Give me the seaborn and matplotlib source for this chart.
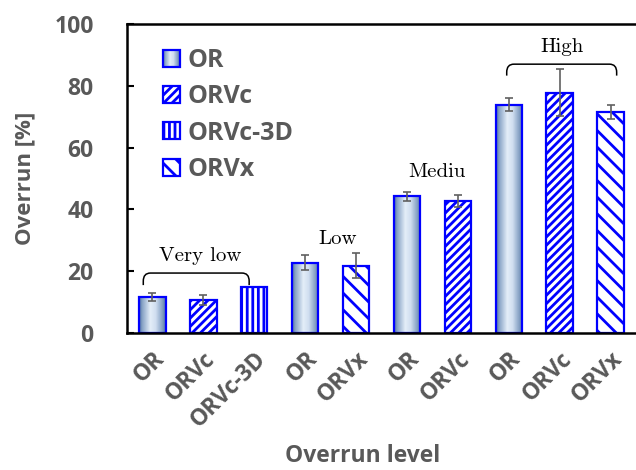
import numpy as np
import pandas as pd
import matplotlib
matplotlib.use("Agg")
import matplotlib.pyplot as plt
import seaborn as sns
from matplotlib.patches import Patch, Rectangle, PathPatch
from matplotlib.path import Path
from matplotlib.colors import LinearSegmentedColormap
from matplotlib.legend_handler import HandlerPatch
from matplotlib.image import BboxImage
from matplotlib.transforms import Bbox, TransformedBbox, ScaledTranslation

# ---------------- data ----------------
tick_labels = ["OR", "ORVc", "ORVc-3D", "OR", "ORVx", "OR", "ORVc", "OR", "ORVc", "ORVx"]
bar_types = ["OR", "ORVc", "ORVc-3D", "OR", "ORVx", "OR", "ORVc", "OR", "ORVc", "ORVx"]
values = [11.6, 10.6, 14.8, 22.8, 21.8, 44.2, 42.7, 73.8, 77.7, 71.5]
errors = [1.4, 1.7, np.nan, 2.3, 4.0, 1.4, 1.8, 2.1, 7.6, 2.4]
group_names = ["Very low", "Low", "Mediu", "High"]
legend_order = ["OR", "ORVc", "ORVc-3D", "ORVx"]

df = pd.DataFrame({"pos": np.arange(len(values)), "value": values, "type": bar_types})

# ---------------- style ----------------
sns.set_theme(style="white")
plt.rcParams["font.family"] = ["Open Sans", "DejaVu Sans"]
plt.rcParams["hatch.color"] = "#0000ff"
plt.rcParams["hatch.linewidth"] = 2.0
GRAY = "#595959"
BLUE = "#0000ff"
hatches = {"OR": "", "ORVc": "////", "ORVc-3D": "|||", "ORVx": "\\\\"}

fig = plt.figure(figsize=(6.36, 4.70), dpi=100)
ax = fig.add_axes([127 / 636, 1 - 333 / 470, (636 - 127) / 636, (333 - 24) / 470])

sns.barplot(data=df, x="pos", y="value", hue="type", dodge=False, width=0.52,
            palette={t: "white" for t in legend_order}, edgecolor=BLUE,
            linewidth=1.6, legend=False, ax=ax, native_scale=True, zorder=2)

grad_cmap = LinearSegmentedColormap.from_list(
    "g", [(0.0, "#4a6e9e"), (0.12, "#87a3c6"), (0.42, "#e4eef8"),
          (0.62, "#d0def0"), (0.88, "#7f9cc0"), (1.0, "#4f73a3")])
grad = np.linspace(0, 1, 256).reshape(1, -1)

for p in ax.patches:
    xc = p.get_x() + p.get_width() / 2
    i = int(round(xc))
    t = bar_types[i]
    p.set_hatch(hatches[t])
    if t == "OR":
        p.set_facecolor("none")
        im = ax.imshow(grad, cmap=grad_cmap, aspect="auto",
                       extent=[p.get_x(), p.get_x() + p.get_width(), 0, p.get_height()],
                       zorder=1.5)
        im.set_clip_path(p)

err_x = [i for i in range(len(values)) if not np.isnan(errors[i])]
ax.errorbar(err_x, [values[i] for i in err_x], yerr=[errors[i] for i in err_x],
            fmt="none", ecolor="#606060", elinewidth=1.2, capsize=3.2, capthick=1.2, zorder=4)

ax.set_xlim(-0.5, 9.5)
ax.set_ylim(0, 100)
ax.set_yticks([0, 20, 40, 60, 80, 100])
ax.set_xticks(range(len(tick_labels)))
ax.set_xticklabels(tick_labels, rotation=45, ha="right", rotation_mode="anchor")
shift = ScaledTranslation(-5 / 100, -2 / 100, fig.dpi_scale_trans)
for lab in ax.get_xticklabels():
    lab.set_fontweight("bold")
    lab.set_color(GRAY)
    lab.set_fontsize(16.5)
    lab.set_transform(lab.get_transform() + shift)
for lab in ax.get_yticklabels():
    lab.set_fontweight("bold")
    lab.set_color(GRAY)
    lab.set_fontsize(16.5)
ax.tick_params(axis="y", direction="in", length=5, width=1.5, color="black", pad=24, left=True)
ax.tick_params(axis="x", length=0, pad=10)

for s in ["left", "bottom", "top"]:
    ax.spines[s].set_color("black")
    ax.spines[s].set_linewidth(1.8)
ax.spines["right"].set_visible(False)

ax.set_ylabel("Overrun [%]", fontsize=16, fontweight="bold", color=GRAY)
ax.yaxis.set_label_coords(-0.18, 0.5)
ax.set_xlabel("Overrun level", fontsize=16.5, fontweight="bold", color=GRAY)
ax.xaxis.set_label_coords(0.462, -0.36)


# legend
class GradHandler(HandlerPatch):
    def create_artists(self, legend, orig_handle, xdescent, ydescent, width, height,
                       fontsize, trans):
        bb = TransformedBbox(Bbox.from_bounds(-xdescent, -ydescent, width, height), trans)
        img = BboxImage(bb, cmap=grad_cmap, interpolation="bilinear")
        img.set_data(grad)
        rect = Rectangle((-xdescent, -ydescent), width, height, facecolor="none",
                         edgecolor=BLUE, linewidth=1.6, transform=trans)
        return [img, rect]


handles = []
for t in legend_order:
    if t == "OR":
        handles.append(Patch(facecolor="#b9cde4", edgecolor=BLUE, linewidth=1.6))
    else:
        handles.append(Patch(facecolor="white", edgecolor=BLUE, linewidth=1.6, hatch=hatches[t]))
leg = ax.legend(handles, legend_order, loc="upper left", bbox_to_anchor=(0.07, 0.922),
                frameon=False, borderpad=0, borderaxespad=0, handlelength=0.68,
                handleheight=0.68, handletextpad=0.3, labelspacing=0.45,
                handler_map={handles[0]: GradHandler()},
                prop={"family": "Open Sans", "weight": "bold", "size": 18})
for txt in leg.get_texts():
    txt.set_color(GRAY)


# group brackets and labels
def brace(x0, x1, ytop, yend, rx=0.14, ry=2.6):
    verts = [(x0, yend), (x0, ytop - ry), (x0, ytop), (x0 + rx, ytop),
             (x1 - rx, ytop), (x1, ytop), (x1, ytop - ry), (x1, yend)]
    codes = [Path.MOVETO, Path.LINETO, Path.CURVE3, Path.CURVE3,
             Path.LINETO, Path.CURVE3, Path.CURVE3, Path.LINETO]
    ax.add_patch(PathPatch(Path(verts, codes), fill=False, lw=1.1, color="black", zorder=3))


brace(-0.18, 1.9, 19.4, 15.5)
brace(6.96, 9.12, 87.0, 83.3)

serif = dict(family="cmr10", fontsize=15, color="black", ha="center", va="center")
ax.text(0.94, 24.8, group_names[0], **serif)
ax.text(3.63, 30.5, group_names[1], **serif)
ax.text(5.59, 52.0, group_names[2], **serif)
ax.text(8.04, 92.5, group_names[3], **serif)

fig.savefig("out.png", dpi=100, facecolor="white")
